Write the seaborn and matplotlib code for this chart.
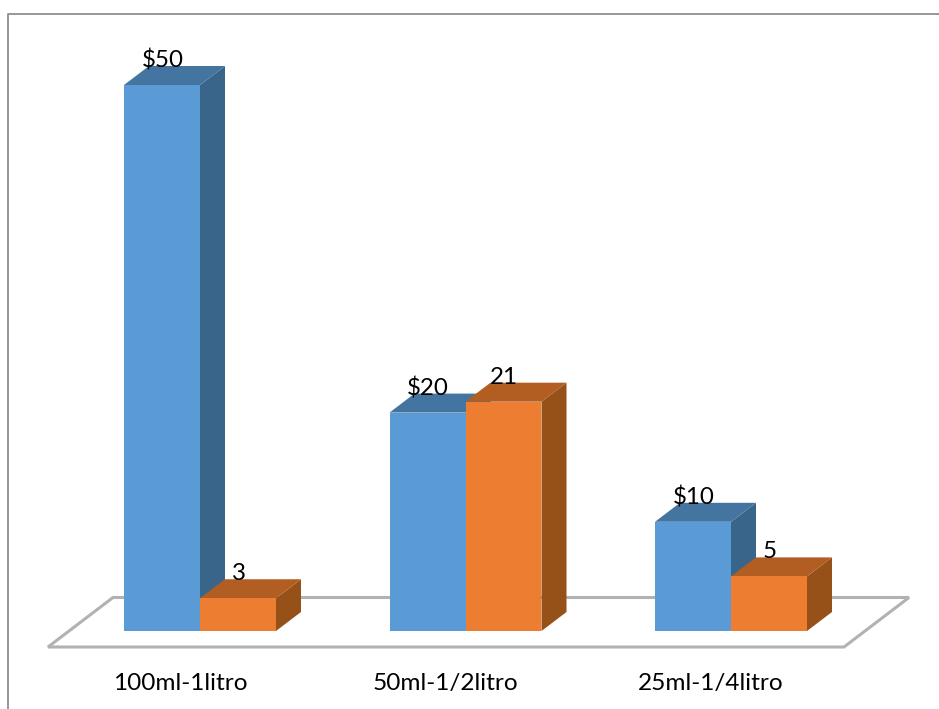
import matplotlib
matplotlib.use("Agg")
import matplotlib.pyplot as plt
import pandas as pd
import seaborn as sns
from matplotlib.lines import Line2D
from matplotlib.patches import Polygon
from matplotlib.transforms import ScaledTranslation

# values
categories = ["100ml-1litro", "50ml-1/2litro", "25ml-1/4litro"]
precio = [50, 20, 10]
cantidad = [3, 21, 5]
precio_labels = ["$50", "$20", "$10"]
cantidad_labels = ["3", "21", "5"]

W, H = 939, 709
front = ["#5B9BD5", "#ED7D31"]
top = ["#4475A0", "#B25E23"]
side = ["#3A658B", "#965119"]

sns.set_theme(style="white")
plt.rcParams["font.family"] = ["Lato", "DejaVu Sans"]


def px(x, y):
    return x / W, 1 - y / H


df = pd.DataFrame({
    "cat": categories * 2,
    "serie": ["precio"] * 3 + ["cantidad"] * 3,
    "valor": precio + cantidad,
})

fig = plt.figure(figsize=(W / 100, H / 100), dpi=100, facecolor="white")
# plot area placed so that 0 sits on the chart floor and 50 on the top of the first bar
ax = fig.add_axes([67.25 / W, (H - 631) / H, 796.5 / W, 546 / H])
sns.barplot(data=df, x="cat", y="valor", hue="serie", palette=front, width=0.5725,
            saturation=1, legend=False, linewidth=0, ax=ax)
ax.set_xlim(-0.5, 2.5)
ax.set_ylim(0, 50)
ax.set_xlabel("")
ax.set_ylabel("")
ax.set_yticks([])
ax.tick_params(axis="x", length=0, pad=30, labelsize=17.6, colors="black")
sns.despine(ax=ax, left=True, bottom=True)
ax.patch.set_alpha(0)

# category labels sit left of the bars, under the front of the floor
shift = ScaledTranslation(-20 / 100, 0, fig.dpi_scale_trans)
for t in ax.get_xticklabels():
    t.set_transform(t.get_transform() + shift)

# outer frame, runs off the picture to the right and bottom
fig.add_artist(Line2D(*zip(px(8, H), px(8, 13.5), px(W, 13.5)), transform=fig.transFigure,
                      color="#8f8f8f", lw=1.3))

# floor
ax.add_patch(Polygon([px(48, 647), px(113, 597.5), px(909, 597.5), px(844, 647)], closed=True,
                     transform=fig.transFigure, facecolor="white", edgecolor="#b2b2b2",
                     lw=2.2, clip_on=False, zorder=0.5))

# depth of the fake 3d, in data units
dx = 25 / 265.5
dy = 19 / 10.92

for s, (bars, labels) in enumerate(zip(ax.containers, [precio_labels, cantidad_labels])):
    for i, (bar, label) in enumerate(zip(bars, labels)):
        x0, x1 = bar.get_x(), bar.get_x() + bar.get_width()
        h = bar.get_height()
        z = 1 + i * 3 + s
        bar.set_zorder(z + 0.2)
        ax.add_patch(Polygon([(x1, 0), (x1 + dx, dy), (x1 + dx, h + dy), (x1, h)], closed=True,
                             facecolor=side[s], edgecolor="none", clip_on=False, zorder=z))
        ax.add_patch(Polygon([(x0, h), (x0 + dx, h + dy), (x1 + dx, h + dy), (x1, h)], closed=True,
                             facecolor=top[s], edgecolor="none", clip_on=False, zorder=z + 0.1))
        ax.annotate(label, ((x0 + x1) / 2, h), xytext=(0.5, 24.5 * 0.72), textcoords="offset points",
                    ha="center", va="center", fontsize=17.4, color="black", zorder=20,
                    annotation_clip=False, parse_math=False)

fig.savefig("out.png", dpi=100)
